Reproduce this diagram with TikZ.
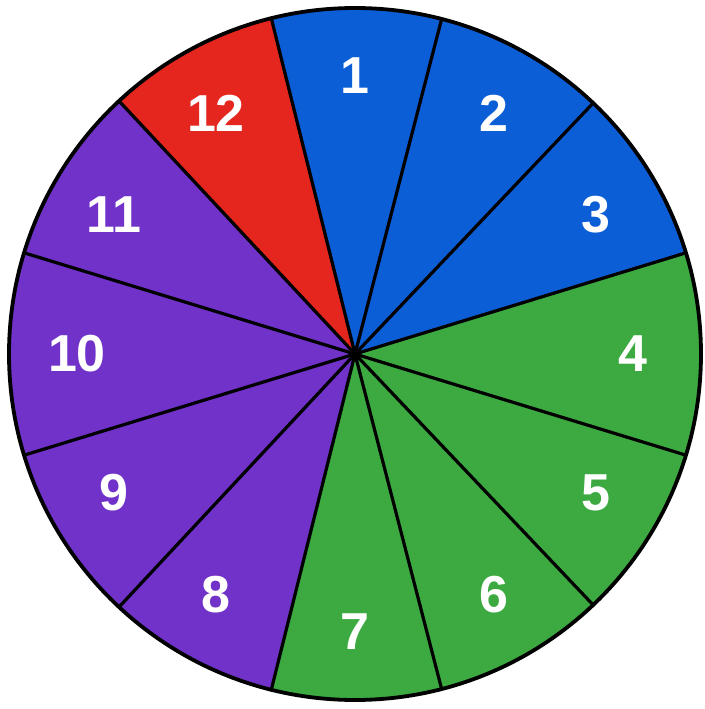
\documentclass[tikz,border=0pt]{standalone}
\usepackage{fontspec}
\setmainfont{Liberation Sans}
\definecolor{wblue}{RGB}{12,94,214}
\definecolor{wred}{RGB}{228,38,30}
\definecolor{wgreen}{RGB}{60,170,65}
\definecolor{wpurple}{RGB}{112,50,200}
\tikzset{
  spoke/.style={line width=3.2pt,line cap=round},
  num/.style={text=white,font=\fontsize{52}{62}\selectfont\bfseries}
}
\begin{document}
\begin{tikzpicture}[x=1pt,y=1pt]
    \useasboundingbox (-355,-355) rectangle (349,354);
    % sectors: start angle / end angle / colour
    \foreach \a/\b/\c in {75.5/104/wblue,46.5/75.5/wblue,17/46.5/wblue,
        -17/17/wgreen,-46.5/-17/wgreen,-75.5/-46.5/wgreen,-104/-75.5/wgreen,
        -133/-104/wpurple,-163/-133/wpurple,163/197/wpurple,133/163/wpurple,
        104/133/wred}
      \fill[\c] (0,0) -- (\a:346) arc[start angle=\a,end angle=\b,radius=346] -- cycle;
    \coordinate (o) at (0,0);
    \foreach \a in {17,46.5,75.5,104,133,163,197,227,256,284.5,313.5,343}
      \draw[spoke] (o) -- (\a:346);
    \draw[line width=3.8pt] (o) circle[radius=346];
    % numbers
    \foreach \n in {1,...,12}
      \node[num] (n\n) at ({90-30*(\n-1)}:278) {\n};
  \end{tikzpicture}
\end{document}
